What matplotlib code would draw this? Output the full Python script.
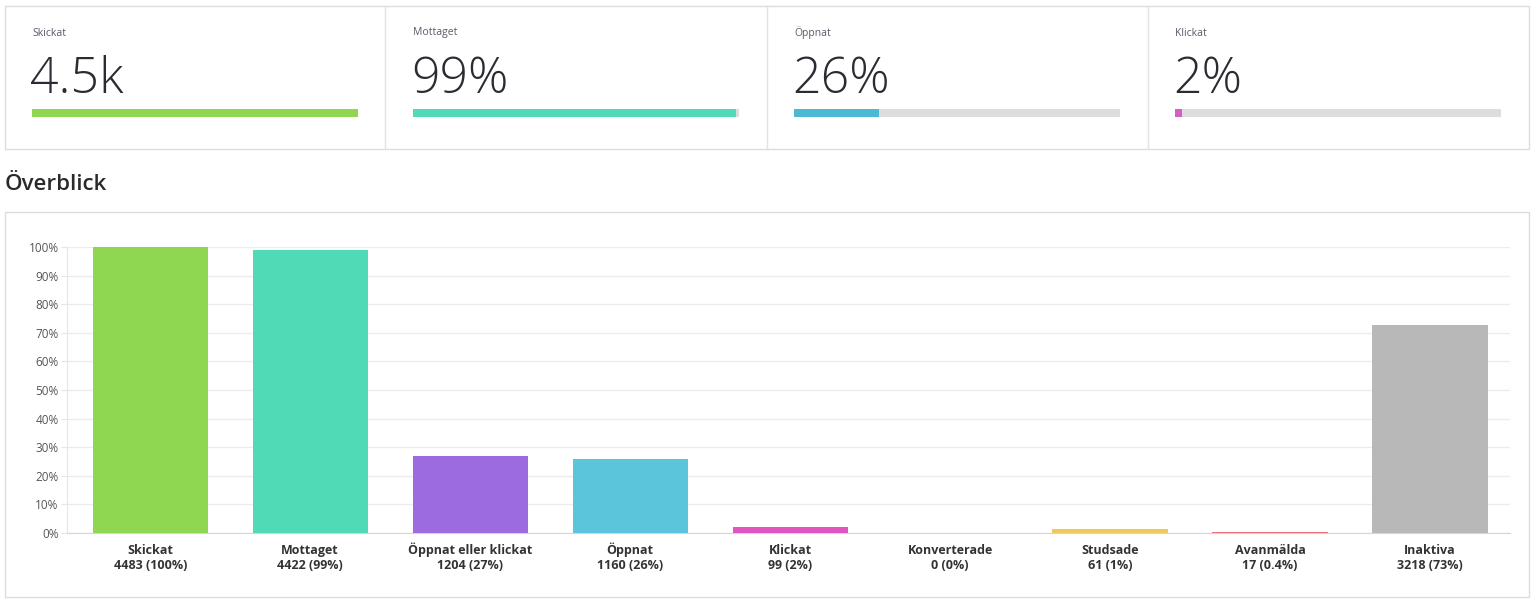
import matplotlib
matplotlib.use("Agg")
import matplotlib.pyplot as plt
from matplotlib.patches import Rectangle
import matplotlib.ticker as mticker

plt.rcParams["font.family"] = ["Open Sans", "DejaVu Sans"]

# ── KPI cards ──
card_titles = ["Skickat", "Mottaget", "Öppnat", "Klickat"]
card_values = ["4.5k", "99%", "26%", "2%"]
card_fill = [100, 99, 26, 2]
card_colors = ["#8fd651", "#50dab5", "#4ab9d4", "#d85cc8"]

# ── Overview bars ──
categories = ["Skickat", "Mottaget", "Öppnat eller klickat", "Öppnat", "Klickat",
              "Konverterade", "Studsade", "Avanmälda", "Inaktiva"]
counts = [4483, 4422, 1204, 1160, 99, 0, 61, 17, 3218]
pct_labels = ["100%", "99%", "27%", "26%", "2%", "0%", "1%", "0.4%", "73%"]
bar_values = [100, 98.9, 26.9, 25.9, 2.2, 0, 1.4, 0.4, 72.8]
bar_colors = ["#8fd651", "#50dab5", "#9b6bdf", "#5bc5db", "#e055c0",
              "#7fd0a8", "#efc95a", "#ec6f7b", "#b8b8b8"]

W, H = 1536, 604
fig = plt.figure(figsize=(W / 100, H / 100), dpi=100)
fig.patch.set_facecolor("white")


def px_box(x0, y0, x1, y1):
    # pixel box (top-left origin) -> figure fraction [left, bottom, width, height]
    return [x0 / W, 1 - y1 / H, (x1 - x0) / W, (y1 - y0) / H]


def frame(x0, y0, x1, y1):
    l, b, w, h = px_box(x0, y0, x1, y1)
    fig.patches.append(Rectangle((l, b), w, h, transform=fig.transFigure,
                                 facecolor="none", edgecolor="#dcdcdc", linewidth=1))


# card frames
frame(5, 6, 1529, 149)
for xd in [385, 767, 1148]:
    fig.add_artist(plt.Line2D([xd / W, xd / W], [1 - 149 / H, 1 - 6 / H],
                              transform=fig.transFigure, color="#e2e2e2", linewidth=1))

card_x = [32, 413, 794, 1175]
for i, x0 in enumerate(card_x):
    fig.text(x0 / W, 1 - 33 / H, card_titles[i], fontsize=7.5, color="#5b5b6b",
             va="center", ha="left")
    fig.text((x0 - 2) / W, 1 - 93 / H, card_values[i], fontsize=36, color="#2b2b33",
             va="baseline", ha="left", fontweight="light")
    bax = fig.add_axes(px_box(x0, 109, x0 + 326, 117))
    bax.barh([0], [100], height=1, color="#dddddd")
    bax.barh([0], [card_fill[i]], height=1, color=card_colors[i])
    bax.set_xlim(0, 100)
    bax.set_ylim(-0.5, 0.5)
    bax.axis("off")

fig.text(5 / W, 1 - 190 / H, "Överblick", fontsize=16, color="#2a2a2a",
         va="baseline", ha="left", fontweight="semibold")

frame(5, 212, 1529, 597)

ax = fig.add_axes(px_box(67, 247, 1510, 533))
x = list(range(len(categories)))
ax.bar(x, bar_values, width=0.72, color=bar_colors, zorder=3)
ax.set_xlim(-0.52, len(categories) - 0.5)
ax.set_ylim(0, 100)
ax.set_yticks(range(0, 101, 10))
ax.yaxis.set_major_formatter(mticker.FuncFormatter(lambda v, _: f"{int(v)}%"))
ax.grid(axis="y", color="#ececec", linewidth=1, zorder=0)
for s in ["top", "right"]:
    ax.spines[s].set_visible(False)
ax.spines["left"].set_color("#e6e6e6")
ax.spines["bottom"].set_color("#d6d6d6")
ax.tick_params(axis="y", length=4, color="#e6e6e6", labelsize=8.5, labelcolor="#555555", pad=2)
ax.set_xticks(x)
ax.set_xticklabels([])
ax.tick_params(axis="x", length=0)

# category labels: name + count (pct), aligned on baselines
for xi, c, n, p in zip(x, categories, counts, pct_labels):
    ax.annotate(c, xy=(xi, 0), xycoords=("data", "axes fraction"),
                xytext=(0, -15), textcoords="offset points", ha="center", va="baseline",
                fontsize=9, fontweight="bold", color="#333333")
    ax.annotate(f"{n} ({p})", xy=(xi, 0), xycoords=("data", "axes fraction"),
                xytext=(0, -25.8), textcoords="offset points", ha="center", va="baseline",
                fontsize=9, fontweight="bold", color="#333333")

fig.savefig("out.png", dpi=100, facecolor="white")
